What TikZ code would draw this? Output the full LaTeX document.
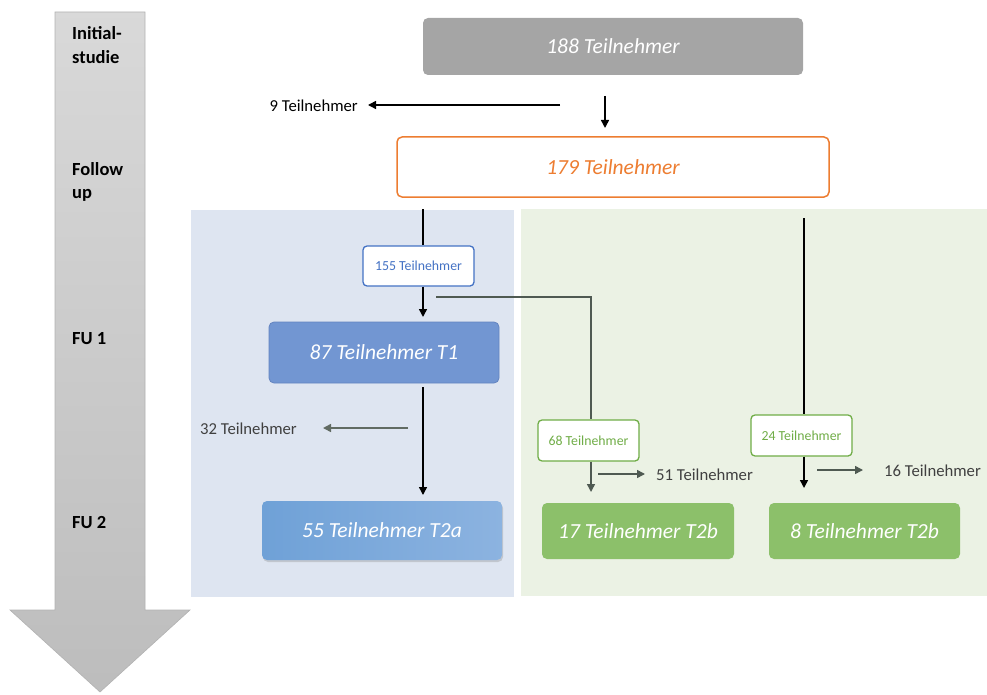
\documentclass[tikz,border=0pt]{standalone}
\usepackage{fontspec}
\setmainfont{Carlito}
\usetikzlibrary{arrows.meta,shadows}
\definecolor{grayBox}{HTML}{A5A5A5}
\definecolor{orangeLine}{HTML}{ED7D31}
\definecolor{blueLine}{HTML}{4472C4}
\definecolor{blueBox}{HTML}{7296D2}
\definecolor{blueBoxEdge}{HTML}{6384C0}
\definecolor{blueLight}{HTML}{6FA1D7}
\definecolor{blueLighter}{HTML}{8CB3E0}
\definecolor{greenLine}{HTML}{70AD47}
\definecolor{greenBox}{HTML}{8CC06A}
\definecolor{blueBg}{HTML}{DEE5F1}
\definecolor{greenBg}{HTML}{EBF2E4}
\definecolor{darkArrow}{HTML}{4F5A52}
\definecolor{labelGray}{HTML}{404040}
\tikzset{
  x=1pt, y=-1pt,
  bigbox/.style={rounded corners=5pt, minimum height=57pt, inner sep=0pt,
    font=\fontsize{21.5}{24}\selectfont\itshape, text=white},
  smallbox/.style={rounded corners=4pt, fill=white, line width=1.3pt,
    minimum width=100pt, minimum height=40pt, inner sep=0pt,
    font=\fontsize{13.8}{15}\selectfont},
  outlabel/.style={font=\fontsize{16.7}{18}\selectfont, inner sep=0pt},
  phase/.style={font=\fontsize{18.5}{24}\selectfont\bfseries, anchor=base west,
    align=left, inner sep=0pt},
  flow/.style={line width=1.5pt, -{Triangle[length=8pt,width=8pt]}},
  plain/.style={line width=1.5pt},
}
\begin{document}
\begin{tikzpicture}
\useasboundingbox (0,0) rectangle (987,695);

% time axis arrow
\shade[top color=gray!30, bottom color=gray!52, draw=gray!60, line width=0.6pt]
  (55,12) -- (145,12) -- (145,610) -- (190,610) -- (100,692) -- (10,610) -- (55,610) -- cycle;
% phase labels (base anchor sits on the last line)
\node[phase] (pInit) at (72,64) {Initial-\\studie};
\node[phase] (pFollow) at (72,199) {Follow\\up};
\node[phase] (pFU1) at (72,344) {FU 1};
\node[phase] (pFU2) at (72,528) {FU 2};

% group backgrounds
\fill[blueBg] (191,210) rectangle (514,597);
\fill[greenBg] (521,209) rectangle (987,596);

% boxes
\node[bigbox, fill=grayBox, minimum width=380pt] (n188) at (613,46.5) {188 Teilnehmer};
\node[bigbox, fill=white, draw=orangeLine, line width=1.5pt, text=orangeLine,
  minimum width=432pt, minimum height=60pt] (n179) at (613,167) {179 Teilnehmer};
\node[smallbox, draw=blueLine, text=blueLine, minimum width=111pt] (n155) at (418.5,266) {155 Teilnehmer};
\node[bigbox, fill=blueBox, draw=blueBoxEdge, line width=0.8pt,
  minimum width=230pt, minimum height=61pt] (n87) at (384,352.5) {87 Teilnehmer T1};
\node[bigbox, left color=blueLight, right color=blueLighter,
  drop shadow={shadow xshift=1pt, shadow yshift=-2pt, opacity=0.3},
  minimum width=240pt, minimum height=59pt] (n55) at (382,530.5) {55 Teilnehmer T2a};
\node[smallbox, draw=greenLine, text=greenLine, minimum width=101pt, minimum height=41pt] (n68) at (588.5,440.5) {68 Teilnehmer};
\node[smallbox, draw=greenLine, text=greenLine, minimum width=101pt, minimum height=41pt] (n24) at (801.5,435.5) {24 Teilnehmer};
\node[bigbox, fill=greenBox, minimum width=192pt, minimum height=56pt] (n17) at (638,531) {17 Teilnehmer T2b};
\node[bigbox, fill=greenBox, minimum width=191pt, minimum height=56pt] (n8) at (864.5,531) {8 Teilnehmer T2b};

% drop-out labels
\node[outlabel, anchor=east] (d9) at (358,105.5) {9 Teilnehmer};
\node[outlabel, anchor=east, text=labelGray] (d32) at (297,428.5) {32 Teilnehmer};
\node[outlabel, anchor=west, text=labelGray] (d51) at (656,475) {51 Teilnehmer};
\node[outlabel, anchor=west, text=labelGray] (d16) at (884,470.5) {16 Teilnehmer};

% helper points for connectors
\coordinate (c9) at (560,105);
\coordinate (a188) at (605,96);
\coordinate (s155) at (423,209);
\coordinate (s87) at (423,387);
\coordinate (c32) at (408,428);
\coordinate (s68) at (436,297);
\coordinate (s24) at (804,218);
\coordinate (c51) at (598,474);
\coordinate (c16) at (817,470);

% connectors
\draw[flow] (c9) -- ([xshift=10pt]d9.east |- c9);
\draw[flow] (a188) -- (605,128);
\draw[plain] (s155) -- (n155.north -| s155);
\draw[flow] (n155.south -| s155) -- (423,317);
\draw[flow] (s87) -- (423,495);
\draw[flow, draw=darkArrow!90, color=darkArrow!90] (c32) -- ([xshift=26pt]d32.east |- c32);
\draw[plain, draw=darkArrow] (s68) -- (591,297) -- (n68.north -| 591,0);
\draw[flow, draw=darkArrow, color=darkArrow] (n68.south -| 591,0) -- (591,492);
\draw[flow, draw=darkArrow, color=darkArrow] (c51) -- ([xshift=-11pt]d51.west |- c51);
\draw[plain] (s24) -- (n24.north -| s24);
\draw[flow] (n24.south -| s24) -- (804,488);
\draw[flow, draw=darkArrow, color=darkArrow] (c16) -- ([xshift=-21pt]d16.west |- c16);
\end{tikzpicture}
\end{document}
